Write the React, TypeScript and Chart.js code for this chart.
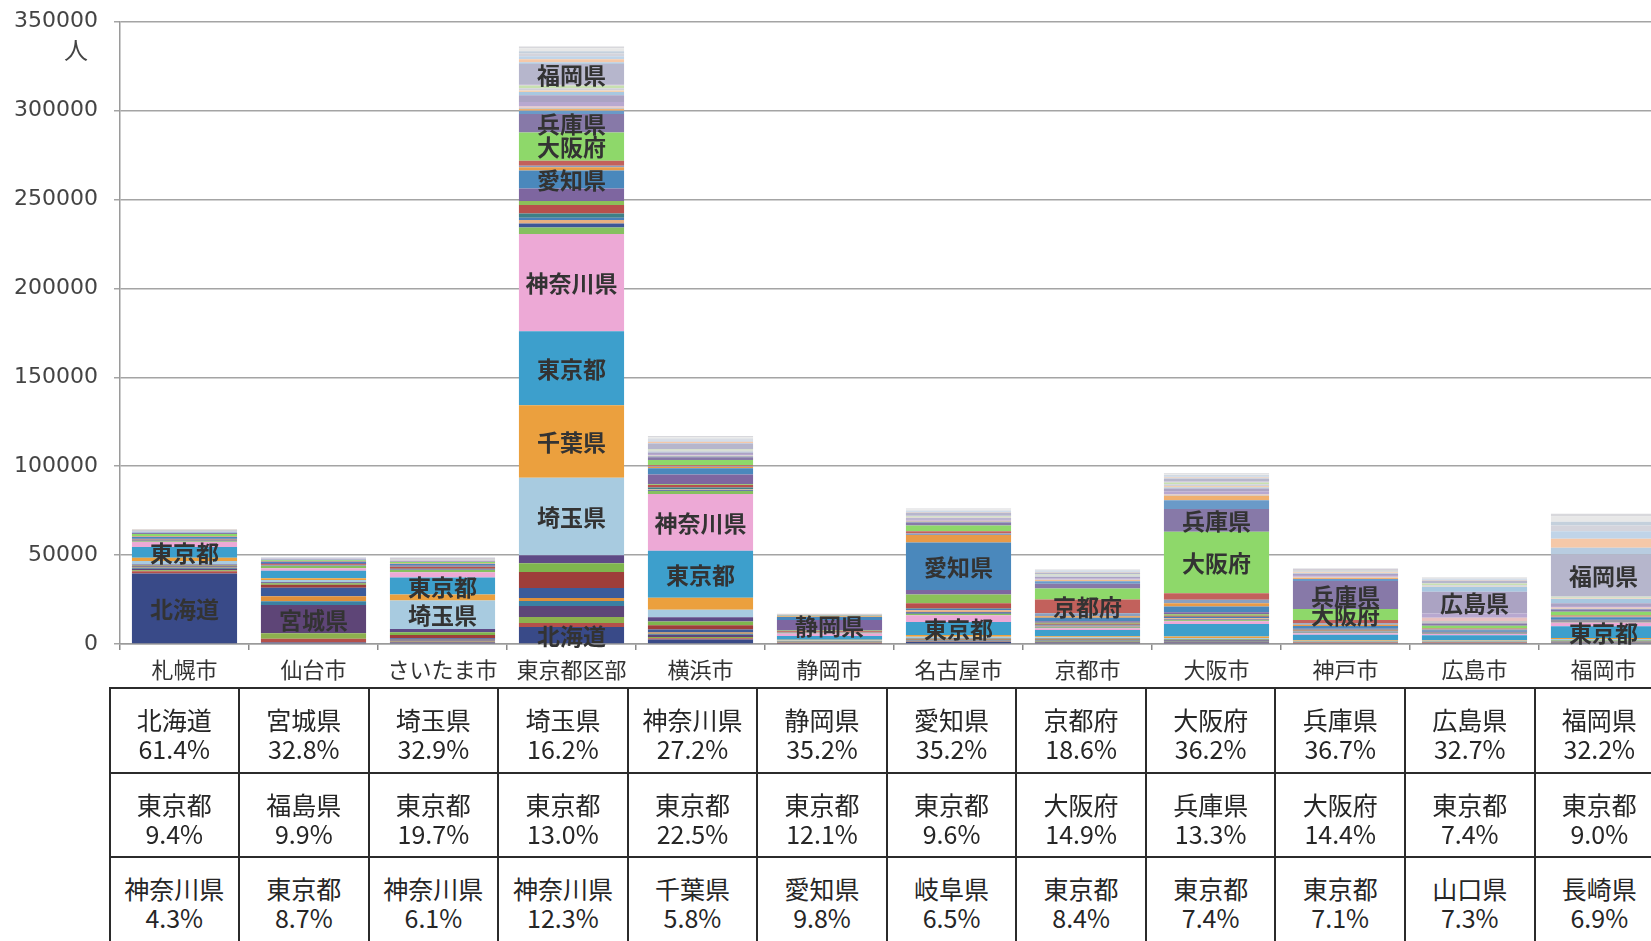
import React, { useEffect, useRef } from "react";
import { Chart, registerables } from "chart.js";

Chart.register(...registerables);

// ---------------- data ----------------
const cities = ["札幌市", "仙台市", "さいたま市", "東京都区部", "横浜市", "静岡市", "名古屋市", "京都市", "大阪市", "神戸市", "広島市", "福岡市"];

const prefectures = [
  "北海道", "青森県", "岩手県", "宮城県", "秋田県", "山形県", "福島県", "茨城県", "栃木県", "群馬県",
  "埼玉県", "千葉県", "東京都", "神奈川県", "新潟県", "富山県", "石川県", "福井県", "山梨県", "長野県",
  "岐阜県", "静岡県", "愛知県", "三重県", "滋賀県", "京都府", "大阪府", "兵庫県", "奈良県", "和歌山県",
  "鳥取県", "島根県", "岡山県", "広島県", "山口県", "徳島県", "香川県", "愛媛県", "高知県", "福岡県",
  "佐賀県", "長崎県", "熊本県", "大分県", "宮崎県", "鹿児島県", "沖縄県",
];

const prefColors = [
  "#394a88", "#b4504a", "#8db04e", "#5e4577", "#3a80a2", "#e0903a", "#3b5b9b", "#9e3e3a", "#7fb54e", "#5e4a86",
  "#a8cbe0", "#eba03e", "#3d9fcc", "#eda9d6", "#86c060", "#3e5696", "#e8b080", "#4a7eb8", "#3f7f86", "#b8504c",
  "#8cc05a", "#7e66a0", "#4a88bc", "#e89a48", "#8aa0c0", "#c2615c", "#8ed86a", "#8779a8", "#6a9ac8", "#f0b070",
  "#c8c8c8", "#e8c0c0", "#b8a8d0", "#aba3c3", "#a8c8e0", "#f2d0b0", "#d0d0d8", "#c8e0b0", "#c8c0d8", "#b6b6cc",
  "#b8cce0", "#f5c8a8", "#c0d4e8", "#d4d4dc", "#c4d0dc", "#e8e8e8", "#d8d8dc",
];

// values per city, in the prefecture order above (persons)
const sapporo = [39650, 1200, 600, 900, 500, 300, 400, 500, 300, 300, 2000, 1800, 6070, 2780, 400, 150, 150, 80, 100, 400, 150, 500, 1000, 150, 100, 300, 1100, 600, 200, 100, 50, 50, 200, 250, 100, 50, 100, 100, 50, 400, 50, 80, 100, 80, 60, 80, 100];
const sendai = [800, 2200, 3000, 16000, 2000, 2800, 4830, 1680, 900, 500, 1300, 900, 4250, 1500, 1200, 150, 150, 100, 150, 500, 150, 500, 700, 100, 80, 200, 500, 300, 100, 50, 30, 30, 100, 150, 60, 40, 60, 60, 40, 250, 30, 50, 60, 50, 40, 60, 80];
const saitama = [900, 350, 300, 350, 250, 250, 800, 1800, 1600, 1850, 16050, 3300, 9610, 2980, 1300, 150, 150, 100, 300, 900, 150, 800, 750, 150, 100, 200, 650, 350, 150, 80, 60, 60, 150, 200, 100, 60, 80, 100, 60, 500, 60, 100, 120, 100, 80, 120, 150];
const tokyo = [9500, 2250, 3400, 6200, 2800, 1700, 5600, 9000, 5000, 4500, 43500, 40900, 41600, 54600, 3750, 2250, 1900, 1300, 2400, 4700, 2250, 7100, 10100, 1800, 950, 2800, 15900, 10300, 1900, 1000, 700, 700, 2500, 3800, 1800, 800, 1300, 1500, 900, 11200, 1000, 1800, 1600, 1600, 1300, 1600, 1000];
const yokohama = [2500, 800, 700, 1200, 600, 700, 1600, 2500, 2000, 2500, 4100, 6800, 26400, 32000, 1650, 400, 400, 250, 900, 1400, 500, 5500, 3500, 600, 300, 700, 3000, 1600, 400, 300, 200, 200, 600, 900, 500, 300, 400, 500, 300, 3000, 400, 600, 700, 600, 500, 800, 700];
const shizuoka = [300, 80, 60, 100, 50, 60, 150, 250, 200, 250, 500, 400, 2060, 1400, 250, 80, 80, 50, 300, 600, 330, 5980, 1670, 200, 60, 100, 350, 150, 60, 40, 20, 20, 60, 80, 40, 20, 40, 50, 30, 150, 20, 40, 50, 40, 30, 60, 80];
const nagoya = [1100, 200, 150, 250, 120, 120, 250, 400, 300, 300, 900, 1000, 7280, 3800, 800, 900, 1100, 700, 300, 2900, 4930, 2600, 26700, 4200, 900, 1200, 3200, 1800, 400, 250, 150, 150, 500, 900, 300, 200, 300, 400, 200, 1600, 150, 300, 400, 300, 250, 600, 450];
const kyoto = [900, 250, 200, 300, 150, 150, 250, 400, 300, 300, 600, 600, 3500, 1000, 400, 400, 500, 500, 150, 500, 600, 800, 2000, 900, 1600, 7760, 6220, 2600, 1500, 500, 250, 250, 700, 700, 300, 250, 350, 400, 200, 900, 150, 250, 300, 250, 200, 350, 300];
const osaka = [900, 200, 150, 250, 120, 120, 200, 350, 250, 250, 600, 800, 7100, 1500, 500, 500, 700, 700, 150, 600, 800, 1100, 3200, 1900, 1900, 3750, 34600, 12700, 5000, 2500, 500, 500, 1500, 1500, 600, 900, 1000, 1000, 600, 1500, 250, 400, 500, 400, 350, 600, 500];
const kobe = [600, 80, 60, 100, 50, 50, 80, 150, 100, 100, 400, 450, 3050, 800, 250, 250, 300, 350, 50, 300, 400, 600, 1500, 800, 800, 1800, 6180, 15750, 1200, 600, 350, 300, 1000, 700, 250, 600, 450, 400, 250, 400, 60, 100, 120, 100, 100, 150, 120];
const hiroshima = [600, 80, 60, 100, 50, 50, 80, 150, 100, 100, 400, 400, 2780, 700, 100, 100, 100, 80, 50, 150, 150, 450, 900, 200, 200, 600, 1500, 1300, 200, 150, 1100, 1800, 2400, 12260, 2740, 350, 500, 1000, 300, 1200, 200, 250, 300, 350, 200, 450, 250];
const fukuoka = [700, 150, 100, 200, 100, 100, 150, 250, 200, 200, 600, 600, 6570, 2000, 200, 150, 150, 100, 100, 250, 250, 500, 1400, 250, 200, 600, 2000, 1300, 300, 200, 300, 400, 800, 1500, 2500, 250, 350, 600, 300, 23500, 3800, 5040, 4200, 3200, 2200, 2900, 1500];

const cityValues = [sapporo, sendai, saitama, tokyo, yokohama, shizuoka, nagoya, kyoto, osaka, kobe, hiroshima, fukuoka];

// prefecture names written on the bars
const barLabels = [
  ["北海道", "東京都"],
  ["宮城県"],
  ["埼玉県", "東京都"],
  ["北海道", "埼玉県", "千葉県", "東京都", "神奈川県", "愛知県", "大阪府", "兵庫県", "福岡県"],
  ["東京都", "神奈川県"],
  ["静岡県"],
  ["東京都", "愛知県"],
  ["京都府"],
  ["大阪府", "兵庫県"],
  ["大阪府", "兵庫県"],
  ["広島県"],
  ["東京都", "福岡県"],
];

const yTickValues = [0, 50000, 100000, 150000, 200000, 250000, 300000, 350000];
const unitLabel = "人";

// table below the chart
const top1Names = ["北海道", "宮城県", "埼玉県", "埼玉県", "神奈川県", "静岡県", "愛知県", "京都府", "大阪府", "兵庫県", "広島県", "福岡県"];
const top1Pcts = ["61.4%", "32.8%", "32.9%", "16.2%", "27.2%", "35.2%", "35.2%", "18.6%", "36.2%", "36.7%", "32.7%", "32.2%"];
const top2Names = ["東京都", "福島県", "東京都", "東京都", "東京都", "東京都", "東京都", "大阪府", "兵庫県", "大阪府", "東京都", "東京都"];
const top2Pcts = ["9.4%", "9.9%", "19.7%", "13.0%", "22.5%", "12.1%", "9.6%", "14.9%", "13.3%", "14.4%", "7.4%", "9.0%"];
const top3Names = ["神奈川県", "東京都", "神奈川県", "神奈川県", "千葉県", "愛知県", "岐阜県", "東京都", "東京都", "東京都", "山口県", "長崎県"];
const top3Pcts = ["4.3%", "8.7%", "6.1%", "12.3%", "5.8%", "9.8%", "6.5%", "8.4%", "7.4%", "7.1%", "7.3%", "6.9%"];

// ---------------- layout constants ----------------
const JP = '"Noto Sans CJK JP", "Noto Sans CJK SC", sans-serif';
const CANVAS_W = 1700;
const CANVAS_H = 700;
const PLOT_TOP = 21.7;
const PLOT_BOTTOM = 644;
const TABLE_LEFT = 109.5;
const TABLE_TOP = 688;
const COL_W = 129.55;
const ROW_H = 84.5;

const overlayPlugin = {
  id: "overlayText",
  afterDatasetsDraw(chart: any) {
    const ctx = chart.ctx;
    ctx.save();
    ctx.textAlign = "center";
    ctx.textBaseline = "middle";
    ctx.font = `bold 23px ${JP}`;
    ctx.fillStyle = "#333333";
    barLabels.forEach((names, ci) => {
      names.forEach((name) => {
        const di = prefectures.indexOf(name);
        if (di < 0) return;
        const el = chart.getDatasetMeta(di).data[ci];
        if (!el) return;
        const p = el.getProps(["x", "y", "base"], true);
        ctx.fillText(name, p.x, (p.y + p.base) / 2 + 1);
      });
    });
    ctx.font = `24px ${JP}`;
    ctx.fillStyle = "#444";
    ctx.fillText(unitLabel, 76, 50);
    ctx.restore();
  },
};

function BarChart() {
  const ref = useRef<HTMLCanvasElement | null>(null);
  useEffect(() => {
    if (!ref.current) return;
    const datasets = prefectures.map((p, i) => ({
      label: p,
      data: cityValues.map((arr) => arr[i]),
      backgroundColor: prefColors[i],
      borderWidth: 0,
      barPercentage: 0.815,
      categoryPercentage: 1.0,
      stack: "s",
    }));
    const chart: any = new Chart(ref.current, {
      type: "bar",
      data: { labels: cities, datasets },
      plugins: [overlayPlugin],
      options: {
        responsive: false,
        animation: false,
        layout: { padding: { top: PLOT_TOP, right: 32, left: 0, bottom: 0 } },
        plugins: {
          legend: { display: false },
          tooltip: { enabled: false },
          title: { display: false },
        },
        scales: {
          x: {
            stacked: true,
            offset: true,
            grid: {
              display: true,
              drawOnChartArea: false,
              drawTicks: true,
              tickLength: 6,
              color: "#8a8a8a",
              lineWidth: 1.5,
            },
            border: { display: true, color: "#9a9a9a", width: 1.5 },
            ticks: {
              font: { family: JP, size: 22 },
              color: "#333",
              padding: 6,
              maxRotation: 0,
              autoSkip: false,
            },
            afterFit: (s: any) => {
              s.height = CANVAS_H - PLOT_BOTTOM;
            },
          },
          y: {
            stacked: true,
            min: 0,
            max: 350000,
            afterBuildTicks: (s: any) => {
              s.ticks = yTickValues.map((v) => ({ value: v }));
            },
            ticks: {
              callback: (v: any) => String(v),
              font: { family: '"DejaVu Sans", sans-serif', size: 22 },
              color: "#444",
              padding: 16,
            },
            grid: { color: "#a4a4a4", lineWidth: 1.5, tickLength: 6 },
            border: { display: true, color: "#9a9a9a", width: 1.5 },
            afterFit: (s: any) => {
              s.width = 120;
              s.paddingTop = 8;
              s.paddingBottom = 8;
            },
          },
        },
      },
    });
    return () => chart.destroy();
  }, []);
  return (
    <canvas
      ref={ref}
      width={CANVAS_W}
      height={CANVAS_H}
      style={{ position: "absolute", left: 0, top: 0, width: CANVAS_W, height: CANVAS_H }}
    />
  );
}

function RankTable() {
  const rows = [
    [top1Names, top1Pcts],
    [top2Names, top2Pcts],
    [top3Names, top3Pcts],
  ];
  const cells: any[] = [];
  rows.forEach(([names, pcts], r) => {
    names.forEach((n, c) => {
      cells.push(
        <div
          key={`${r}-${c}`}
          style={{
            position: "absolute",
            left: TABLE_LEFT + c * COL_W - 1,
            top: TABLE_TOP + r * ROW_H - 1,
            width: COL_W,
            height: ROW_H,
            boxSizing: "border-box",
            borderLeft: "2px solid #2b2b2b",
            borderTop: "2px solid #2b2b2b",
            textAlign: "center",
            fontFamily: JP,
            fontSize: 25,
            lineHeight: "29px",
            color: "#262626",
            paddingTop: 16,
          }}
        >
          <div>{n}</div>
          <div>{pcts[c]}</div>
        </div>
      );
    });
  });
  return <>{cells}</>;
}

export default function App() {
  return (
    <div
      style={{
        position: "fixed",
        left: 0,
        top: 0,
        width: 1651,
        height: 941,
        overflow: "hidden",
        background: "#ffffff",
      }}
    >
      <BarChart />
      <RankTable />
    </div>
  );
}
